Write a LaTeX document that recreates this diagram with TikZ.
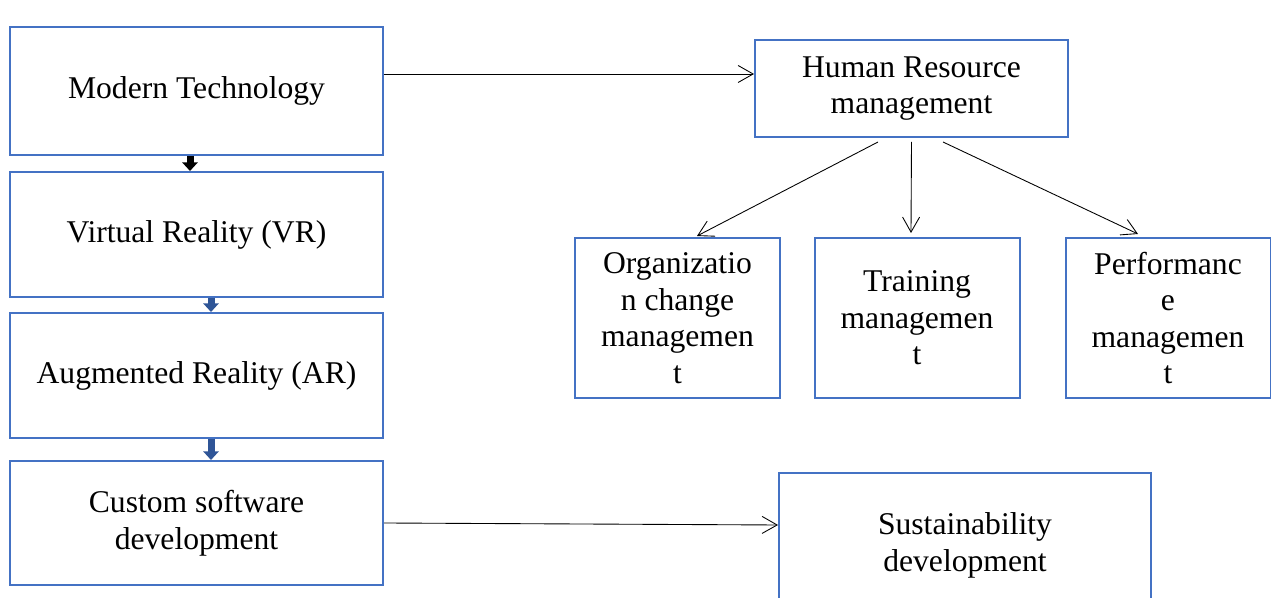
\documentclass[tikz,border=0pt]{standalone}
\usepackage{fontspec}
\setmainfont{Liberation Serif}
\usetikzlibrary{arrows.meta}
\definecolor{boxblue}{HTML}{4472C4}
\definecolor{arrblue}{HTML}{2F5597}
\begin{document}
\begin{tikzpicture}[box/.style={draw=boxblue,line width=0.04cm,align=center,font=\fontsize{18}{20.8}\selectfont},
  link/.style={-{Straight Barb[length=0.3cm,width=0.34cm]},line width=0.5pt},
  blockarr/.style={line width=0.14cm,-{Triangle[length=0.17cm,width=0.3cm]}}]
\path[use as bounding box,clip] (0,0) rectangle (25.42,-11.96);
\node[box,minimum width=7.46cm,minimum height=2.56cm] (mt) at (3.93,-1.82) {Modern Technology};
\node[box,minimum width=7.46cm,minimum height=2.5cm] (vr) at (3.93,-4.69) {Virtual Reality (VR)};
\node[box,minimum width=7.46cm,minimum height=2.5cm] (ar) at (3.93,-7.51) {Augmented Reality (AR)};
\node[box,minimum width=7.46cm,minimum height=2.48cm] (cs) at (3.93,-10.46) {Custom software\\development};
\node[box,minimum width=6.26cm,minimum height=1.94cm] (hrm) at (18.23,-1.77) {Human Resource\\management};
\node[box,minimum width=4.1cm,minimum height=3.2cm] (org) at (13.55,-6.36) {Organizatio\\n change\\managemen\\t};
\node[box,minimum width=4.1cm,minimum height=3.2cm] (trn) at (18.34,-6.36) {Training\\managemen\\t};
\node[box,minimum width=4.1cm,minimum height=3.2cm] (perf) at (23.36,-6.36) {Performanc\\e\\managemen\\t};
\node[box,minimum width=7.44cm,minimum height=2.9cm] (sus) at (19.3,-10.91) {Sustainability\\development};
\draw[blockarr] ([xshift=-0.13cm]mt.south) -- ([xshift=-0.13cm]vr.north);
\draw[blockarr,arrblue] ([xshift=0.29cm]vr.south) -- ([xshift=0.29cm]ar.north);
\draw[blockarr,arrblue] ([xshift=0.29cm]ar.south) -- ([xshift=0.29cm]cs.north);
\draw[link] ([yshift=0.34cm]mt.east) -- ([yshift=0.29cm]hrm.west);
\draw[link] (cs.east) -- ([yshift=0.41cm]sus.west);
\draw[link] ([xshift=-0.67cm,yshift=-0.08cm]hrm.south) -- ([xshift=0.39cm,yshift=0.02cm]org.north);
\draw[link] ([yshift=-0.08cm]hrm.south) -- ([xshift=-0.12cm,yshift=0.08cm]trn.north);
\draw[link] ([xshift=0.63cm,yshift=-0.08cm]hrm.south) -- ([xshift=-0.6cm,yshift=0.06cm]perf.north);
\end{tikzpicture}
\end{document}
